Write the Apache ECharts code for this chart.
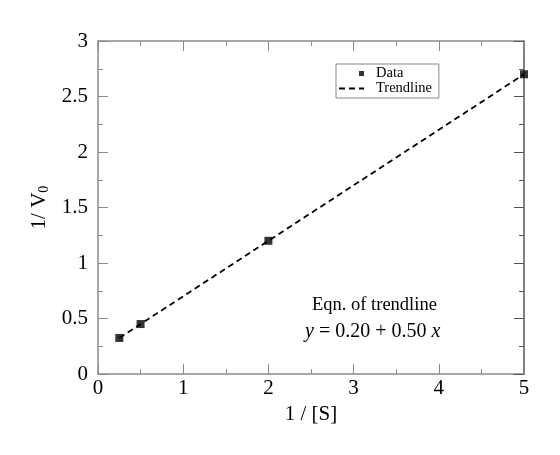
<!DOCTYPE html>
<html>
<head>
<meta charset="utf-8">
<script src="https://cdn.jsdelivr.net/npm/echarts@6/dist/echarts.min.js"></script>
<style>
  html, body { margin: 0; padding: 0; background: #fff; }
  #chart { width: 560px; height: 455px; }
</style>
</head>
<body>
<div id="chart"></div>
<script>
// Lineweaver-Burk style data
const invS = [0.25, 0.5, 2, 5];
const invV = [0.325, 0.45, 1.2, 2.7];
const trendX = [0.25, 5];
const intercept = 0.20;
const slope = 0.50;

const font = 'Liberation Serif';
const frameColor = '#8a8a8a';

const trendData = trendX.map(x => [x, intercept + slope * x]);

const chart = echarts.init(document.getElementById('chart'));

function makeAxis(color) {
    return {
        type: 'value',
        axisLine: { show: true, onZero: false, lineStyle: { color: color, width: 1.5 } },
        axisTick: { show: true, inside: true, length: 10, lineStyle: { color: color } },
        minorTick: { show: true, splitNumber: 2, length: 5, lineStyle: { color: color } },
        splitLine: { show: false },
        axisLabel: { color: '#000', fontFamily: font, fontSize: 21 }
    };
}

chart.setOption({
    animation: false,
    backgroundColor: '#fff',
    grid: { left: 98, right: 36, top: 41, bottom: 81 },
    legend: {
        orient: 'vertical',
        left: 336,
        top: 64,
        padding: [2, 7, 2, 2],
        itemGap: 0,
        itemWidth: 25,
        itemHeight: 10,
        borderColor: '#888',
        borderWidth: 1,
        borderRadius: 0,
        textStyle: { fontFamily: font, fontSize: 14.5, color: '#000', padding: [0, 0, 0, 7] },
        data: [
            {
                name: 'Data',
                icon: 'path://M0,0 L0.01,0 L0.01,0.01 Z M25,10 L24.99,10 L24.99,9.99 Z M20,2.5 L25,2.5 L25,7.5 L20,7.5 Z'
            },
            { name: 'Trendline', itemStyle: { opacity: 0 } }
        ]
    },
    xAxis: [
        Object.assign(makeAxis(frameColor), {
            min: 0, max: 5, interval: 1,
            name: '1 / [S]',
            nameLocation: 'middle',
            nameGap: 28,
            nameTextStyle: { fontFamily: font, fontSize: 21, color: '#000' },
            axisLabel: { color: '#000', fontFamily: font, fontSize: 21, margin: 4 }
        }),
        Object.assign(makeAxis(frameColor), {
            position: 'top',
            min: 0, max: 5, interval: 1,
            axisLabel: { show: false }
        })
    ],
    yAxis: [
        Object.assign(makeAxis(frameColor), {
            min: 0, max: 3, interval: 0.5,
            name: '{a|1/ V}{s|0}',
            nameLocation: 'middle',
            nameGap: 46,
            nameTextStyle: {
                rich: {
                    a: { fontFamily: font, fontSize: 21, color: '#000' },
                    s: { fontFamily: font, fontSize: 14, color: '#000', verticalAlign: 'bottom', padding: [8, 0, 0, 0] }
                }
            },
            axisLabel: { color: '#000', fontFamily: font, fontSize: 21, margin: 10 }
        }),
        Object.assign(makeAxis('#555'), {
            position: 'right',
            min: 0, max: 3, interval: 0.5,
            axisLabel: { show: false }
        })
    ],
    series: [
        {
            name: 'Trendline',
            type: 'line',
            data: trendData,
            symbol: 'none',
            lineStyle: { color: '#000', width: 1.8, type: [6, 4] },
            itemStyle: { color: '#000' },
            z: 2
        },
        {
            name: 'Data',
            type: 'scatter',
            data: invS.map((x, i) => [x, invV[i]]),
            symbol: 'rect',
            symbolSize: 8,
            itemStyle: { color: '#000' },
            z: 3
        }
    ],
    graphic: [
        {
            type: 'text',
            left: 312,
            top: 296,
            style: { text: 'Eqn. of trendline', fontFamily: font, fontSize: 18.5, fill: '#000' }
        },
        {
            type: 'text',
            left: 305,
            top: 322,
            style: {
                text: '{i|y} = 0.20 + 0.50 {i|x}',
                fontFamily: font, fontSize: 20, fill: '#000',
                rich: { i: { fontFamily: font, fontSize: 20, fontStyle: 'italic', fill: '#000' } }
            }
        }
    ]
});
</script>
</body>
</html>
